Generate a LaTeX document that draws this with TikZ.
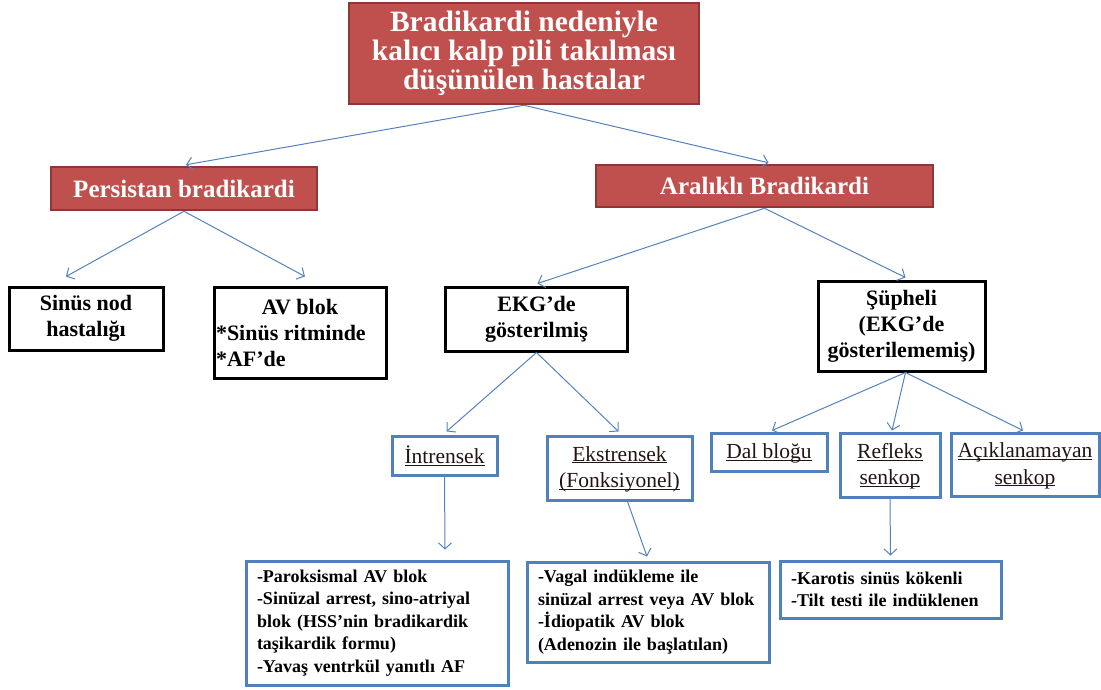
\documentclass[tikz,border=0pt]{standalone}
\usepackage{fontspec}
\setmainfont{Liberation Serif}
\usetikzlibrary{arrows.meta}
\definecolor{redfill}{RGB}{192,80,77}
\definecolor{redline}{RGB}{140,56,54}
\definecolor{boxblue}{RGB}{79,129,189}
\definecolor{arrblue}{RGB}{84,130,190}
\definecolor{txtdark}{RGB}{35,20,20}
\newcommand\ulx[1]{\underline{\raisebox{0pt}[\height][0pt]{#1}}}
\begin{document}
\begin{tikzpicture}[x=1pt,y=-1pt,
 redbox/.style={draw=redline, line width=2.5pt, fill=redfill, text=white, font=\bfseries\fontsize{25}{29}\selectfont, align=center, inner sep=0pt},
 blackbox/.style={draw=black, line width=3pt, fill=white, font=\bfseries\fontsize{22}{26}\selectfont, align=center, inner sep=0pt},
 bluebox/.style={draw=boxblue, line width=3pt, fill=white, text=txtdark, font=\fontsize{21.5}{26.5}\selectfont, align=center, inner sep=0pt},
 listbox/.style={draw=boxblue, line width=3pt, fill=white, font=\bfseries\fontsize{18}{22.5}\selectfont, align=left, inner xsep=11pt, inner ysep=0pt},
 conn/.style={draw=arrblue, line width=1pt, -{Straight Barb[length=6pt,width=13pt]}}
]
\useasboundingbox (0,0) rectangle (1101,689);

% level 0
\node[redbox, minimum width=350, minimum height=101, font=\bfseries\fontsize{29.5}{29}\selectfont] (top) at (524,53.5)
  {Bradikardi nedeniyle\\kalıcı kalp pili takılması\\düşünülen hastalar};

% level 1
\node[redbox, minimum width=266, minimum height=43] (pers) at (184,188.5) {Persistan bradikardi};
\node[redbox, minimum width=337, minimum height=42] (aral) at (764.5,186) {Aralıklı Bradikardi};

% level 2
\node[blackbox, minimum width=154, minimum height=63] (sinus) at (86,318.5) {Sinüs nod\\hastalığı};
\node[blackbox, minimum width=172, minimum height=91] (avb) at (300,332.5)
  {AV blok\\\makebox[168pt][l]{*Sinüs ritminde}\\\makebox[168pt][l]{*AF’de}};
\node[blackbox, minimum width=182, minimum height=64] (ekg) at (536.5,319) {EKG’de\\gösterilmiş};
\node[blackbox, minimum width=167, minimum height=90] (sup) at (901.5,326) {Şüpheli\\(EKG’de\\gösterilememiş)};

% level 3
\node[bluebox, minimum width=105, minimum height=39] (intr) at (444.5,455.5) {\ulx{İntrensek}};
\node[bluebox, minimum width=145, minimum height=64] (ekst) at (619.5,468) {\ulx{Ekstrensek}\\\ulx{(Fonksiyonel)}};
\node[bluebox, minimum width=116, minimum height=38] (dal) at (769,452) {\ulx{Dal bloğu}};
\node[bluebox, minimum width=100, minimum height=64] (ref) at (890,465) {\ulx{Refleks}\\\ulx{senkop}};
\node[bluebox, minimum width=148, minimum height=63] (acik) at (1025,464.5) {\ulx{Açıklanamayan}\\\ulx{senkop}};

% level 4
\node[listbox, text width=240pt, minimum width=262, minimum height=124] (b1) at (377,623)
  {-Paroksismal AV blok\\-Sinüzal arrest, sino-atriyal\\blok (HSS’nin bradikardik\\taşikardik formu)\\-Yavaş ventrkül yanıtlı AF};
\node[listbox, text width=220pt, minimum width=242, minimum height=100] (b2) at (648,612)
  {-Vagal indükleme ile\\sinüzal arrest veya AV blok\\-İdiopatik AV blok\\(Adenozin ile başlatılan)};
\node[listbox, text width=199pt, minimum width=221, minimum height=57] (b3) at (890.5,589.5)
  {-Karotis sinüs kökenli\\-Tilt testi ile indüklenen};

% connectors
\draw[conn] (top.south) -- ([xshift=2pt,yshift=1pt]pers.north);
\draw[conn] (top.south) -- ([xshift=4pt,yshift=1pt]aral.north);
\draw[conn] (pers.south) -- ([xshift=-20pt,yshift=9pt]sinus.north);
\draw[conn] (pers.south) -- ([xshift=5pt,yshift=9pt]avb.north);
\draw[conn] (aral.south) -- ([xshift=1pt,yshift=2pt]ekg.north);
\draw[conn] (aral.south) -- ([xshift=4pt,yshift=2pt]sup.north);
\draw[conn] (ekg.south) -- ([xshift=2pt,yshift=3pt]intr.north);
\draw[conn] (ekg.south) -- ([xshift=-1pt,yshift=3pt]ekst.north);
\draw[conn] ([xshift=4pt]sup.south) -- ([xshift=3pt,yshift=1pt]dal.north);
\draw[conn] ([xshift=4pt]sup.south) -- ([xshift=2pt,yshift=1pt]ref.north);
\draw[conn] ([xshift=4pt]sup.south) -- ([xshift=-2pt,yshift=1pt]acik.north);
\draw[conn] (intr.south) -- ([xshift=68pt,yshift=10pt]b1.north);
\draw[conn] ([xshift=8pt]ekst.south) -- ([xshift=-1pt,yshift=4pt]b2.north);
\draw[conn] (ref.south) -- ([yshift=4pt]b3.north);
\end{tikzpicture}
\end{document}
